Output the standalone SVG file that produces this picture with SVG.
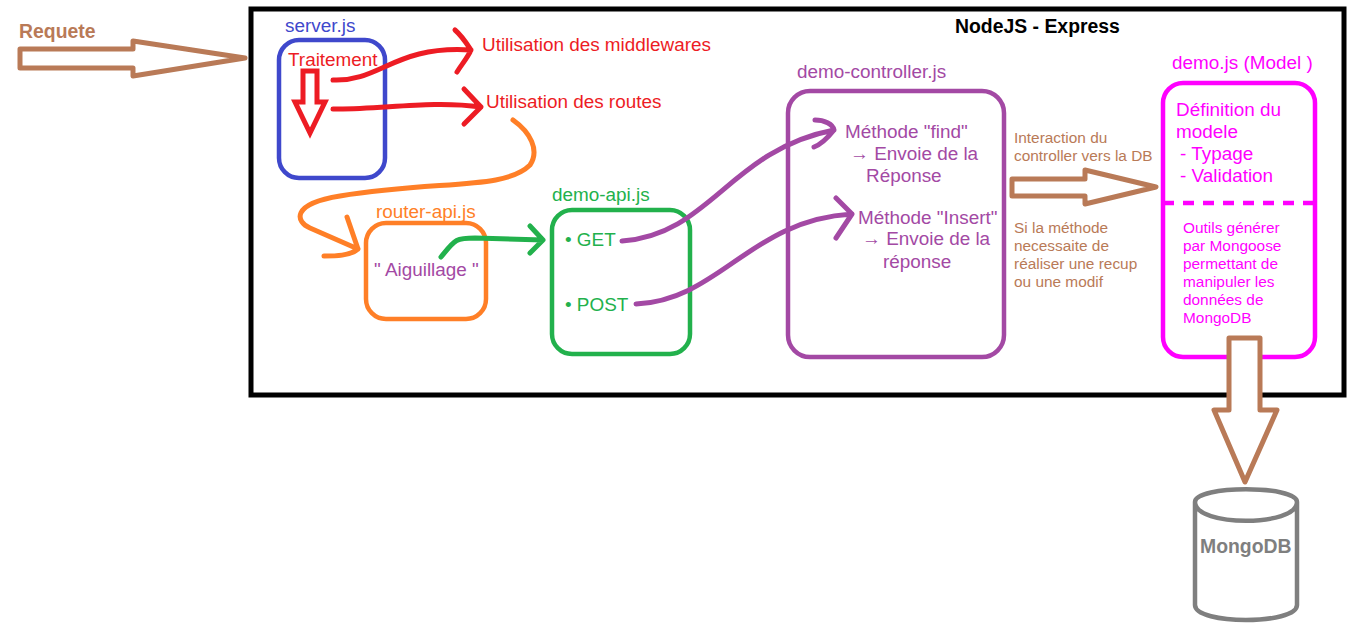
<svg xmlns="http://www.w3.org/2000/svg" width="1361" height="633" viewBox="0 0 1361 633">
<style>
text{font-family:"Liberation Sans",Arial,sans-serif;font-size:18.9px}
.b{font-weight:bold;font-size:19.4px}
.box{fill:none;stroke-width:4.5}
.line{fill:none;stroke-width:5;stroke-linecap:round;stroke-linejoin:round}
.brown{fill:#fff;stroke:#b97a57;stroke-width:5;stroke-linejoin:round}
.s{font-size:15.4px}
.red{fill:#ed1c24}.blue{fill:#3f48cc}.org{fill:#ff7f27}.grn{fill:#22b14c}.pur{fill:#a349a4}.mag{fill:#ff00ff}.tan{fill:#b97a57}
</style>
<rect width="1361" height="633" fill="#fff"/>
<g id="nodejs"><rect x="251" y="9" width="1093" height="386" fill="none" stroke="#000" stroke-width="5"/>
<text x="955" y="33" class="b">NodeJS - Express</text></g>
<g id="requete"><text x="19" y="38" class="tan b">Requete</text></g>
<g id="server"><rect x="279" y="40" width="106" height="138" rx="20" class="box" stroke="#3f48cc"/>
<text x="285" y="32" class="blue">server.js</text>
<text x="288" y="66" class="red">Traitement</text></g>
<g id="middlewares"><text x="482" y="51" class="red">Utilisation des middlewares</text></g>
<g id="routes"><text x="486" y="108" class="red">Utilisation des routes</text></g>
<g id="router"><rect x="366" y="223" width="120" height="96" rx="20" class="box" stroke="#ff7f27"/>
<text x="376" y="218" class="org">router-api.js</text>
<text x="374" y="276" class="pur">" Aiguillage "</text></g>
<g id="api"><rect x="552" y="210" width="138" height="144" rx="20" class="box" stroke="#22b14c"/>
<text x="552" y="201" class="grn">demo-api.js</text>
<text x="565" y="246" class="grn">• GET</text>
<text x="565" y="311" class="grn">• POST</text></g>
<g id="controller"><rect x="788" y="91" width="216" height="266" rx="22" class="box" stroke="#a349a4"/>
<text x="797" y="78" class="pur">demo-controller.js</text>
<text x="845" y="138" class="pur">Méthode "find"</text>
<text x="850" y="160" class="pur">→ Envoie de la</text>
<text x="866" y="182" class="pur">Réponse</text>
<text x="858" y="224" class="pur">Méthode "Insert"</text>
<text x="862" y="245" class="pur">→ Envoie de la</text>
<text x="883" y="268" class="pur">réponse</text></g>
<g id="notes"><text x="1014" y="143" class="tan s">Interaction du</text>
<text x="1014" y="161" class="tan s">controller vers la DB</text>
<text x="1014" y="233" class="tan s">Si la méthode</text>
<text x="1014" y="251" class="tan s">necessaite de</text>
<text x="1014" y="269" class="tan s">réaliser une recup</text>
<text x="1014" y="287" class="tan s">ou une modif</text></g>
<g id="model"><rect x="1163" y="83" width="152" height="274" rx="20" class="box" stroke="#ff00ff"/>
<path d="M1163 203H1318" fill="none" stroke="#ff00ff" stroke-width="4.5" stroke-dasharray="11 9"/>
<text x="1172" y="69" class="mag">demo.js (Model )</text>
<text x="1176" y="116" class="mag">Définition du</text>
<text x="1176" y="138" class="mag">modele</text>
<text x="1180" y="160" class="mag">- Typage</text>
<text x="1180" y="182" class="mag">- Validation</text>
<text x="1183" y="233" class="mag s">Outils générer</text>
<text x="1183" y="251" class="mag s">par Mongoose</text>
<text x="1183" y="269" class="mag s">permettant de</text>
<text x="1183" y="287" class="mag s">manipuler les</text>
<text x="1183" y="305" class="mag s">données de</text>
<text x="1183" y="323" class="mag s">MongoDB</text></g>
<g id="mongodb"><path d="M1195 502C1195 485 1297 485 1297 502V605C1297 625 1195 625 1195 605ZM1195 502C1195 527 1297 527 1297 502" fill="#fff" stroke="#7f7f7f" stroke-width="4.5"/>
<text x="1200" y="553" fill="#7f7f7f" class="b">MongoDB</text></g>
<g id="connectors">
<path class="brown" d="M20 49H133V41L245 58L133 76V68H20Z"/>
<path class="brown" d="M1012 179H1085V170L1156 187L1085 204V196H1012Z"/>
<path class="brown" d="M1229 338H1260V410H1277L1245 482L1214 410H1229Z"/>
<path d="M303 71H317V102H325L310 133L295 102H303Z" fill="none" stroke="#ed1c24" stroke-width="5"/>
<path class="line" stroke="#ed1c24" d="M333 80C380 82 395 45 471 50M455 30C462 36 467 44 471 50C468 57 462 64 457 72"/>
<path class="line" stroke="#ed1c24" d="M333 109C380 110 430 100 481 107M464 89L481 107L464 124"/>
<path class="line" stroke="#ff7f27" d="M513 120C530 132 540 150 530 165C505 190 440 180 340 196C290 204 296 222 310 228L358 249M347 217L358 249C350 256 335 256 324 256"/>
<path class="line" stroke="#22b14c" d="M441 257C455 240 455 238 475 238L543 240M530 226L543 240L530 253"/>
<path class="line" stroke="#a349a4" d="M622 241C710 235 730 150 834 130M815 120C824 120 833 124 834 130C830 135 822 144 814 147"/>
<path class="line" stroke="#a349a4" d="M636 304C720 300 750 220 852 214M836 198L852 214L836 238"/>
</g>
</svg>
